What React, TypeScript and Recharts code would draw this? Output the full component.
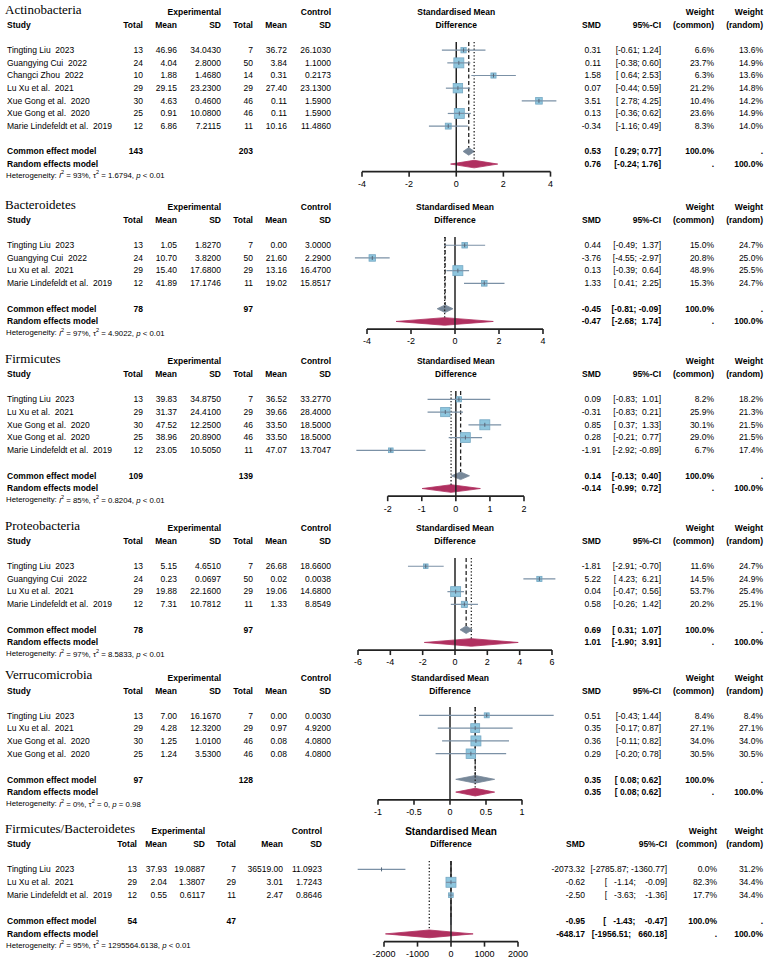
import React from "react";
import {
  ComposedChart,
  Scatter,
  ErrorBar,
  Area,
  XAxis,
  YAxis,
  ReferenceLine,
} from "recharts";

const SANS = "'Liberation Sans', Arial, Helvetica, sans-serif";
const SERIF = "'Liberation Serif', 'Times New Roman', serif";
const INK = "#000";
const CI_LINE = "#7b91a6";
const SQUARE = "#8ec6de";
const SQUARE_EDGE = "#76a8c3";
const COMMON = "#778899";
const RANDOM = "#b03060";

// Actinobacteria
const actinoStudies = ["Tingting Liu  2023", "Guangying Cui  2022", "Changci Zhou  2022", "Lu Xu et al.  2021", "Xue Gong et al.  2020", "Xue Gong et al.  2020", "Marie Lindefeldt et al.  2019"];
const actinoExp = [[13, 46.96, 34.043], [24, 4.04, 2.8], [10, 1.88, 1.468], [29, 29.15, 23.23], [30, 4.63, 0.46], [25, 0.91, 10.08], [12, 6.86, 7.2115]];
const actinoCtrl = [[7, 36.72, 26.103], [50, 3.84, 1.1], [14, 0.31, 0.2173], [29, 27.4, 23.13], [46, 0.11, 1.59], [46, 0.11, 1.59], [11, 10.16, 11.486]];
const actinoSmd = [[0.31, -0.61, 1.24], [0.11, -0.38, 0.6], [1.58, 0.64, 2.53], [0.07, -0.44, 0.59], [3.51, 2.78, 4.25], [0.13, -0.36, 0.62], [-0.34, -1.16, 0.49]];
const actinoWeights = [[6.6, 13.6], [23.7, 14.9], [6.3, 13.6], [21.2, 14.8], [10.4, 14.2], [23.6, 14.9], [8.3, 14.0]];
const actinoPooled = [[0.53, 0.29, 0.77], [0.76, -0.24, 1.76]];
const actinoTotals = [143, 203];
const actinoHet = ["93%", "1.6794", "< 0.01"];
const actinoTicks = [-4, -2, 0, 2, 4];

// Bacteroidetes
const bactStudies = ["Tingting Liu  2023", "Guangying Cui  2022", "Lu Xu et al.  2021", "Marie Lindefeldt et al.  2019"];
const bactExp = [[13, 1.05, 1.827], [24, 10.7, 3.82], [29, 15.4, 17.68], [12, 41.89, 17.1746]];
const bactCtrl = [[7, 0.0, 3.0], [50, 21.6, 2.29], [29, 13.16, 16.47], [11, 19.02, 15.8517]];
const bactSmd = [[0.44, -0.49, 1.37], [-3.76, -4.55, -2.97], [0.13, -0.39, 0.64], [1.33, 0.41, 2.25]];
const bactWeights = [[15.0, 24.7], [20.8, 25.0], [48.9, 25.5], [15.3, 24.7]];
const bactPooled = [[-0.45, -0.81, -0.09], [-0.47, -2.68, 1.74]];
const bactTotals = [78, 97];
const bactHet = ["97%", "4.9022", "< 0.01"];
const bactTicks = [-4, -2, 0, 2, 4];

// Firmicutes
const firmStudies = ["Tingting Liu  2023", "Lu Xu et al.  2021", "Xue Gong et al.  2020", "Xue Gong et al.  2020", "Marie Lindefeldt et al.  2019"];
const firmExp = [[13, 39.83, 34.875], [29, 31.37, 24.41], [30, 47.52, 12.25], [25, 38.96, 20.89], [12, 23.05, 10.505]];
const firmCtrl = [[7, 36.52, 33.277], [29, 39.66, 28.4], [46, 33.5, 18.5], [46, 33.5, 18.5], [11, 47.07, 13.7047]];
const firmSmd = [[0.09, -0.83, 1.01], [-0.31, -0.83, 0.21], [0.85, 0.37, 1.33], [0.28, -0.21, 0.77], [-1.91, -2.92, -0.89]];
const firmWeights = [[8.2, 18.2], [25.9, 21.3], [30.1, 21.5], [29.0, 21.5], [6.7, 17.4]];
const firmPooled = [[0.14, -0.13, 0.4], [-0.14, -0.99, 0.72]];
const firmTotals = [109, 139];
const firmHet = ["85%", "0.8204", "< 0.01"];
const firmTicks = [-2, -1, 0, 1, 2];

// Proteobacteria
const protStudies = ["Tingting Liu  2023", "Guangying Cui  2022", "Lu Xu et al.  2021", "Marie Lindefeldt et al.  2019"];
const protExp = [[13, 5.15, 4.651], [24, 0.23, 0.0697], [29, 19.88, 22.16], [12, 7.31, 10.7812]];
const protCtrl = [[7, 26.68, 18.66], [50, 0.02, 0.0038], [29, 19.06, 14.68], [11, 1.33, 8.8549]];
const protSmd = [[-1.81, -2.91, -0.7], [5.22, 4.23, 6.21], [0.04, -0.47, 0.56], [0.58, -0.26, 1.42]];
const protWeights = [[11.6, 24.7], [14.5, 24.9], [53.7, 25.4], [20.2, 25.1]];
const protPooled = [[0.69, 0.31, 1.07], [1.01, -1.9, 3.91]];
const protTotals = [78, 97];
const protHet = ["97%", "8.5833", "< 0.01"];
const protTicks = [-6, -4, -2, 0, 2, 4, 6];

// Verrucomicrobia
const verrStudies = ["Tingting Liu  2023", "Lu Xu et al.  2021", "Xue Gong et al.  2020", "Xue Gong et al.  2020"];
const verrExp = [[13, 7.0, 16.167], [29, 4.28, 12.32], [30, 1.25, 1.01], [25, 1.24, 3.53]];
const verrCtrl = [[7, 0.0, 0.003], [29, 0.97, 4.92], [46, 0.08, 4.08], [46, 0.08, 4.08]];
const verrSmd = [[0.51, -0.43, 1.44], [0.35, -0.17, 0.87], [0.36, -0.11, 0.82], [0.29, -0.2, 0.78]];
const verrWeights = [[8.4, 8.4], [27.1, 27.1], [34.0, 34.0], [30.5, 30.5]];
const verrPooled = [[0.35, 0.08, 0.62], [0.35, 0.08, 0.62]];
const verrTotals = [97, 128];
const verrHet = ["0%", "0", "= 0.98"];
const verrTicks = [-1, -0.5, 0, 0.5, 1];

// Firmicutes/Bacteroidetes
const fbStudies = ["Tingting Liu  2023", "Lu Xu et al.  2021", "Marie Lindefeldt et al.  2019"];
const fbExp = [[13, 37.93, 19.0887], [29, 2.04, 1.3807], [12, 0.55, 0.6117]];
const fbCtrl = [[7, 36519.0, 11.0923], [29, 3.01, 1.7243], [11, 2.47, 0.8646]];
const fbSmd = [[-2073.32, -2785.87, -1360.77], [-0.62, -1.14, -0.09], [-2.5, -3.63, -1.36]];
const fbWeights = [[0.0, 31.2], [82.3, 34.4], [17.7, 34.4]];
const fbPooled = [[-0.95, -1.43, -0.47], [-648.17, -1956.51, 660.18]];
const fbTotals = [54, 47];
const fbHet = ["95%", "1295564.6138", "< 0.01"];
const fbTicks = [-2000, -1000, 0, 1000, 2000];

// layout
const COLS_A = { left: [143, 177, 221, 253, 287, 331], right: [601, 661, 714, 763] };
const COLS_F = { left: [137, 167, 205, 236, 283, 322], right: [585, 667, 717, 763] };
const CHART_LEFT = 340;
const CHART_RIGHT = 578;
const AXIS_H = 22;
const Y_TOP = -0.65;
const DIAMOND_H = 0.3;

const panels = [
  { title: "Actinobacteria", studies: actinoStudies, exp: actinoExp, ctrl: actinoCtrl, smd: actinoSmd, weights: actinoWeights, pooled: actinoPooled, totals: actinoTotals, het: actinoHet, ticks: actinoTicks, y0: 50, rowH: 12.65, axisPx: [362, 550.5], cols: COLS_A, headSize: 8.5 },
  { title: "Bacteroidetes", studies: bactStudies, exp: bactExp, ctrl: bactCtrl, smd: bactSmd, weights: bactWeights, pooled: bactPooled, totals: bactTotals, het: bactHet, ticks: bactTicks, y0: 245, rowH: 12.7, axisPx: [367, 543], cols: COLS_A, headSize: 8.5 },
  { title: "Firmicutes", studies: firmStudies, exp: firmExp, ctrl: firmCtrl, smd: firmSmd, weights: firmWeights, pooled: firmPooled, totals: firmTotals, het: firmHet, ticks: firmTicks, y0: 399, rowH: 12.75, axisPx: [387.7, 524], cols: COLS_A, headSize: 8.5 },
  { title: "Proteobacteria", studies: protStudies, exp: protExp, ctrl: protCtrl, smd: protSmd, weights: protWeights, pooled: protPooled, totals: protTotals, het: protHet, ticks: protTicks, y0: 566, rowH: 12.7, axisPx: [358, 552], cols: COLS_A, headSize: 8.5 },
  { title: "Verrucomicrobia", studies: verrStudies, exp: verrExp, ctrl: verrCtrl, smd: verrSmd, weights: verrWeights, pooled: verrPooled, totals: verrTotals, het: verrHet, ticks: verrTicks, y0: 715.5, rowH: 12.8, axisPx: [378, 522], cols: COLS_A, headSize: 8.5 },
  { title: "Firmicutes/Bacteroidetes", studies: fbStudies, exp: fbExp, ctrl: fbCtrl, smd: fbSmd, weights: fbWeights, pooled: fbPooled, totals: fbTotals, het: fbHet, ticks: fbTicks, y0: 869, rowH: 12.9, axisPx: [384, 518], cols: COLS_F, headSize: 10 },
];

const pxPerUnit = (p) => (p.axisPx[1] - p.axisPx[0]) / (p.ticks[p.ticks.length - 1] - p.ticks[0]);
const zeroPx = (p) => p.axisPx[0] + (0 - p.ticks[0]) * pxPerUnit(p);

function StudyMark(props) {
  const { cx, cy, payload, wMax } = props;
  const s = 10 * Math.sqrt(payload.w / wMax);
  return (
    <g>
      {s > 0 && (
        <rect x={cx - s / 2} y={cy - s / 2} width={s} height={s} fill={SQUARE} stroke={SQUARE_EDGE} strokeWidth={0.8} />
      )}
      {s > 0 && <line x1={cx - s / 2} x2={cx + s / 2} y1={cy} y2={cy} stroke={CI_LINE} strokeWidth={1.2} />}
      <line x1={cx} x2={cx} y1={cy - 2} y2={cy + 2} stroke="#53677a" strokeWidth={1} />
    </g>
  );
}

function ForestPlot({ p }) {
  const n = p.studies.length;
  const yMax = n + 2.6;
  const plotH = (yMax - Y_TOP) * p.rowH;
  const k = pxPerUnit(p);
  const a = p.ticks[0];
  const b = p.ticks[p.ticks.length - 1];
  const dMin = a - (p.axisPx[0] - CHART_LEFT) / k;
  const dMax = b + (CHART_RIGHT - p.axisPx[1]) / k;
  const wMax = Math.max(...p.weights.map((w) => w[0]));
  const points = p.smd.map((s, i) => ({ x: s[0], y: i, err: [s[0] - s[1], s[2] - s[0]], w: p.weights[i][0] }));
  const diamond = (row, c) => [
    { x: c[1], band: [row, row] },
    { x: c[0], band: [row - DIAMOND_H, row + DIAMOND_H] },
    { x: c[2], band: [row, row] },
  ];
  const [common, random] = p.pooled;

  return (
    <div style={{ position: "absolute", left: CHART_LEFT, top: p.y0 + Y_TOP * p.rowH }}>
      <ComposedChart
        width={CHART_RIGHT - CHART_LEFT}
        height={plotH + AXIS_H}
        margin={{ top: 0, right: 0, bottom: 0, left: 0 }}
      >
        <XAxis
          type="number"
          dataKey="x"
          domain={[dMin, dMax]}
          allowDataOverflow
          ticks={p.ticks}
          interval={0}
          axisLine={false}
          tickLine={{ stroke: "#222", strokeWidth: 1.6 }}
          tickSize={5}
          tickMargin={4}
          height={AXIS_H}
          tick={{ fontSize: 9, fill: INK, fontFamily: SANS }}
        />
        <YAxis type="number" dataKey="y" domain={[Y_TOP, yMax]} reversed hide allowDataOverflow />
        <ReferenceLine segment={[{ x: a, y: yMax }, { x: b, y: yMax }]} stroke="#222" strokeWidth={1.7} ifOverflow="visible" />
        <ReferenceLine segment={[{ x: 0, y: Y_TOP }, { x: 0, y: yMax }]} stroke="#222" strokeWidth={1.5} ifOverflow="visible" />
        <ReferenceLine
          segment={[{ x: common[0], y: Y_TOP }, { x: common[0], y: n + 1 - DIAMOND_H }]}
          stroke="#222"
          strokeWidth={1.3}
          strokeDasharray="4 2.5"
          ifOverflow="visible"
        />
        <ReferenceLine
          segment={[{ x: random[0], y: Y_TOP }, { x: random[0], y: n + 2 - DIAMOND_H }]}
          stroke="#222"
          strokeWidth={1.3}
          strokeDasharray="1.3 2"
          ifOverflow="visible"
        />
        <Area data={diamond(n + 1, common)} dataKey="band" type="linear" fill={COMMON} fillOpacity={1} stroke={COMMON} strokeWidth={0.8} isAnimationActive={false} />
        <Area data={diamond(n + 2, random)} dataKey="band" type="linear" fill={RANDOM} fillOpacity={1} stroke={RANDOM} strokeWidth={0.8} isAnimationActive={false} />
        <Scatter data={points} shape={(props) => <StudyMark {...props} wMax={wMax} />} isAnimationActive={false}>
          <ErrorBar dataKey="err" direction="x" width={0} stroke={CI_LINE} strokeWidth={1.2} isAnimationActive={false} />
        </Scatter>
      </ComposedChart>
    </div>
  );
}

function T({ x, y, children, anchor = "start", bold = false, size = 8.5, family = SANS }) {
  return (
    <text
      x={x}
      y={y}
      textAnchor={anchor}
      dominantBaseline="central"
      fontSize={size}
      fontWeight={bold ? "bold" : "normal"}
      fontFamily={family}
      fill={INK}
      style={{ whiteSpace: "pre" }}
    >
      {children}
    </text>
  );
}

function PanelText({ p }) {
  const n = p.studies.length;
  const rowY = (i) => p.y0 + i * p.rowH;
  const h1 = p.y0 - 38;
  const h2 = p.y0 - 25;
  const [xN1, xM1, xS1, xN2, xM2, xS2] = p.cols.left;
  const [xSmd, xCi, xWc, xWr] = p.cols.right;
  const all = [...p.smd, ...p.pooled];
  const wLo = Math.max(...all.map((c) => c[1].toFixed(2).length));
  const wHi = Math.max(...all.map((c) => c[2].toFixed(2).length));
  const ci = (c) => `[${c[1].toFixed(2).padStart(wLo)}; ${c[2].toFixed(2).padStart(wHi)}]`;
  const cY = rowY(n + 1);
  const rY = rowY(n + 2);
  const z = zeroPx(p);

  return (
    <g>
      <T x={5} y={h1 - 3} size={13} family={SERIF}>{p.title}</T>
      <T x={xS1} y={h1} anchor="end" bold>Experimental</T>
      <T x={xS2} y={h1} anchor="end" bold>Control</T>
      <T x={7} y={h2} bold>Study</T>
      <T x={xN1} y={h2} anchor="end" bold>Total</T>
      <T x={xM1} y={h2} anchor="end" bold>Mean</T>
      <T x={xS1} y={h2} anchor="end" bold>SD</T>
      <T x={xN2} y={h2} anchor="end" bold>Total</T>
      <T x={xM2} y={h2} anchor="end" bold>Mean</T>
      <T x={xS2} y={h2} anchor="end" bold>SD</T>
      <T x={z} y={h1} anchor="middle" bold size={p.headSize}>Standardised Mean</T>
      <T x={z} y={h2} anchor="middle" bold>Difference</T>
      <T x={xSmd} y={h2} anchor="end" bold>SMD</T>
      <T x={xCi} y={h2} anchor="end" bold>95%-CI</T>
      <T x={xWc} y={h1} anchor="end" bold>Weight</T>
      <T x={xWc} y={h2} anchor="end" bold>(common)</T>
      <T x={xWr} y={h1} anchor="end" bold>Weight</T>
      <T x={xWr} y={h2} anchor="end" bold>(random)</T>
      {p.studies.map((s, i) => (
        <g key={i}>
          <T x={7} y={rowY(i)}>{s}</T>
          <T x={xN1} y={rowY(i)} anchor="end">{String(p.exp[i][0])}</T>
          <T x={xM1} y={rowY(i)} anchor="end">{p.exp[i][1].toFixed(2)}</T>
          <T x={xS1} y={rowY(i)} anchor="end">{p.exp[i][2].toFixed(4)}</T>
          <T x={xN2} y={rowY(i)} anchor="end">{String(p.ctrl[i][0])}</T>
          <T x={xM2} y={rowY(i)} anchor="end">{p.ctrl[i][1].toFixed(2)}</T>
          <T x={xS2} y={rowY(i)} anchor="end">{p.ctrl[i][2].toFixed(4)}</T>
          <T x={xSmd} y={rowY(i)} anchor="end">{p.smd[i][0].toFixed(2)}</T>
          <T x={xCi} y={rowY(i)} anchor="end">{ci(p.smd[i])}</T>
          <T x={xWc} y={rowY(i)} anchor="end">{p.weights[i][0].toFixed(1) + "%"}</T>
          <T x={xWr} y={rowY(i)} anchor="end">{p.weights[i][1].toFixed(1) + "%"}</T>
        </g>
      ))}
      <T x={7} y={cY} bold>Common effect model</T>
      <T x={xN1} y={cY} anchor="end" bold>{String(p.totals[0])}</T>
      <T x={xN2} y={cY} anchor="end" bold>{String(p.totals[1])}</T>
      <T x={xSmd} y={cY} anchor="end" bold>{p.pooled[0][0].toFixed(2)}</T>
      <T x={xCi} y={cY} anchor="end" bold>{ci(p.pooled[0])}</T>
      <T x={xWc} y={cY} anchor="end" bold>100.0%</T>
      <T x={xWr} y={cY} anchor="end" bold>.</T>
      <T x={7} y={rY} bold>Random effects model</T>
      <T x={xSmd} y={rY} anchor="end" bold>{p.pooled[1][0].toFixed(2)}</T>
      <T x={xCi} y={rY} anchor="end" bold>{ci(p.pooled[1])}</T>
      <T x={xWc} y={rY} anchor="end" bold>.</T>
      <T x={xWr} y={rY} anchor="end" bold>100.0%</T>
      <text x={6} y={rY + 11.5} dominantBaseline="central" fontSize={7.8} fontFamily={SANS} fill={INK} style={{ whiteSpace: "pre" }}>
        {"Heterogeneity: "}
        <tspan fontStyle="italic">I</tspan>
        <tspan dy={-3} fontSize={5.5}>2</tspan>
        <tspan dy={3}>{` = ${p.het[0]}, \u03c4`}</tspan>
        <tspan dy={-3} fontSize={5.5}>2</tspan>
        <tspan dy={3}>{` = ${p.het[1]}, `}</tspan>
        <tspan fontStyle="italic">p</tspan>
        <tspan>{` ${p.het[2]}`}</tspan>
      </text>
    </g>
  );
}

export default function App() {
  return (
    <div style={{ position: "absolute", left: 0, top: 0, width: 767, height: 961, background: "#fff", overflow: "hidden" }}>
      {panels.map((p, i) => (
        <ForestPlot key={i} p={p} />
      ))}
      <svg width={767} height={961} style={{ position: "absolute", left: 0, top: 0, pointerEvents: "none" }}>
        {panels.map((p, i) => (
          <PanelText key={i} p={p} />
        ))}
      </svg>
    </div>
  );
}
